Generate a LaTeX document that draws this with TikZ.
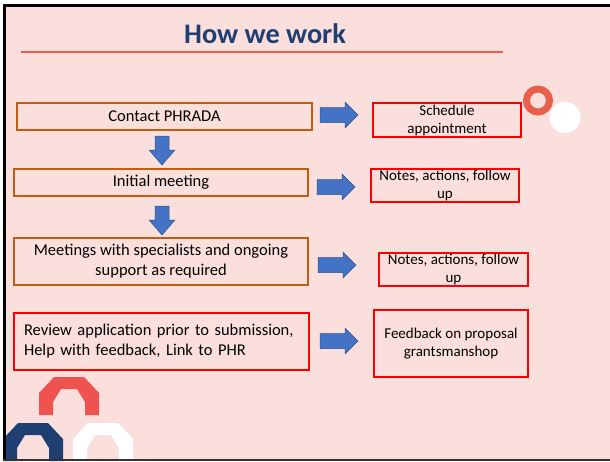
\documentclass[tikz,border=0pt]{standalone}
\usepackage{fontspec}
\setmainfont{Carlito}
\definecolor{bgpink}{HTML}{FBDFDC}
\definecolor{navy}{HTML}{1F3F73}
\definecolor{coral}{HTML}{E8604C}
\definecolor{boxorange}{HTML}{C55A11}
\definecolor{boxred}{HTML}{FF0000}
\definecolor{arrowblue}{HTML}{4472C4}
\definecolor{arrowedge}{HTML}{2F528F}
\definecolor{archred}{HTML}{EF5350}
\tikzset{
  lbox/.style={draw=boxorange, line width=1.4pt, inner sep=0pt, align=center,
    font=\fontsize{16.5}{20}\selectfont},
  rbox/.style={draw=boxred, line width=1.4pt, inner sep=0pt, align=center,
    font=\fontsize{15}{18}\selectfont},
  blockarrow/.style={fill=arrowblue, draw=arrowedge, line width=0.5pt},
  rightarrow/.pic={\filldraw[blockarrow] (0,-7.5) -- (25,-7.5) -- (25,-13) -- (38,0) -- (25,13) -- (25,7.5) -- (0,7.5) -- cycle;},
  downarrow/.pic={\filldraw[blockarrow] (-7,0) -- (-7,14) -- (-13,14) -- (0,29) -- (13,14) -- (7,14) -- (7,0) -- cycle;},
  arch/.pic={\fill[pic actions] (0,38) -- (0,16) -- (15,0) -- (45,0) -- (60,16) -- (60,38) -- (46,38) -- (46,25) -- (38,12) -- (22,12) -- (14,25) -- (14,38) -- cycle;}
}
\begin{document}
\begin{tikzpicture}[x=1pt,y=-1pt]
\useasboundingbox (0,0) rectangle (610,461);
\fill[white] (0,0) rectangle (610,461);
\fill[bgpink] (3,4) rectangle (610,461);

% title
\node[anchor=base, text=navy, font=\fontsize{28.3}{34}\selectfont\bfseries] (title) at (265,43) {How we work};
\draw[coral, line width=2pt] (21,52) -- (503,52);

% decorative circles
\draw[coral, line width=7pt] (538,100.5) circle[radius=11.5];
\fill[white] (565,117.5) circle[radius=15.5];

% left boxes
\node[lbox, minimum width=295, minimum height=27] (b1) at (164.5,116.5) {Contact PHRADA};
\node[lbox, minimum width=294, minimum height=27] (b2) at (161,182.5) {Initial meeting};
\node[lbox, minimum width=294, minimum height=47] (b3) at (161,261.5) {Meetings with specialists and ongoing\\support as required};
\node[lbox, draw=boxred, minimum width=295, minimum height=57, align=left, text width=275, inner xsep=10pt] (b4) at (161.5,341.5) {Review application prior to submission,\\Help with feedback, Link to PHR};

% right boxes
\node[rbox, minimum width=148, minimum height=34] (r1) at (447,120) {Schedule\\appointment};
\node[rbox, minimum width=148, minimum height=33] (r2) at (445,185.5) {Notes, actions, follow\\up};
\node[rbox, minimum width=149, minimum height=33] (r3) at (453.5,269.5) {Notes, actions, follow\\up};
\node[rbox, minimum width=154, minimum height=67] (r4) at (451,343.5) {Feedback on proposal\\grantsmanshop};

% arrows
\pic at (320,115) {rightarrow};
\pic at (317,187) {rightarrow};
\pic at (318,265) {rightarrow};
\pic at (320,341) {rightarrow};
\pic at (162,136) {downarrow};
\pic at (162,206) {downarrow};

% arches
\begin{scope}
\clip (3,4) rectangle (610,461);
\pic[fill=archred] at (39,377) {arch};
\pic[fill=navy] at (3,423) {arch};
\pic[fill=white] at (73,423) {arch};
\end{scope}

% frame
\draw[black, line width=2.6pt] (4.3,461) -- (4.3,5.3) -- (610,5.3);
\draw[black!80, line width=2pt] (3,460) -- (610,460);
\end{tikzpicture}
\end{document}
